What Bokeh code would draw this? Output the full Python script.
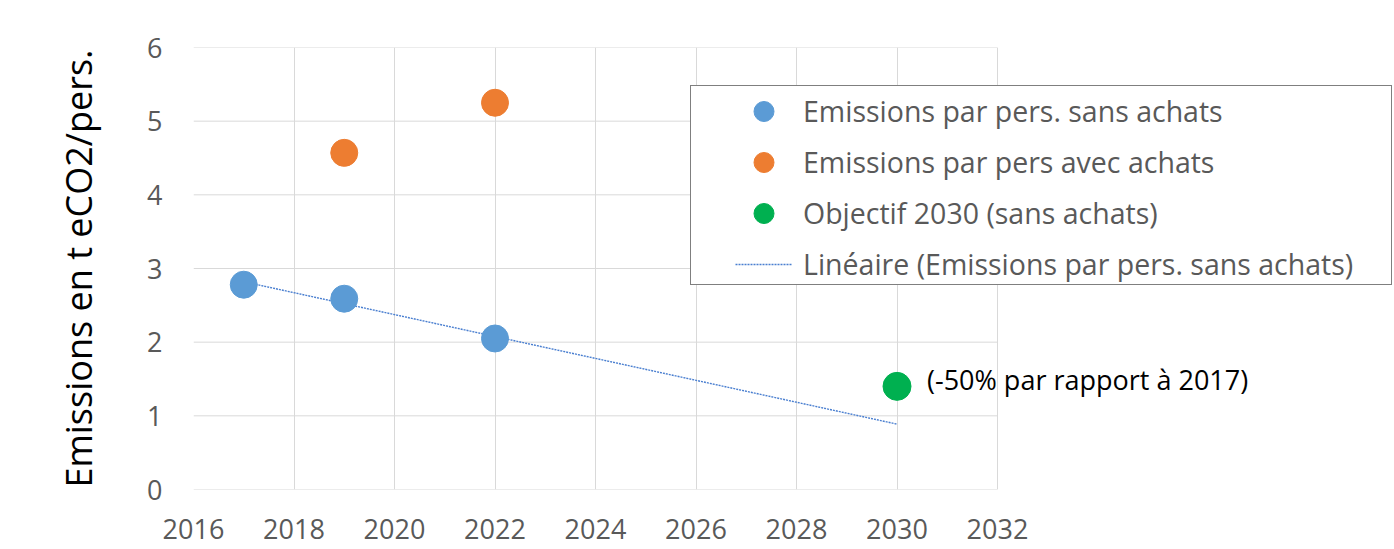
import numpy as np
from bokeh.plotting import figure
from bokeh.models import Range1d, FixedTicker, Legend, LegendItem, Label
from bokeh.embed import file_html
from bokeh.resources import INLINE

# ---- data ----
years_sans = [2017, 2019, 2022]
emis_sans = [2.78, 2.59, 2.05]
years_avec = [2019, 2022]
emis_avec = [4.57, 5.25]
years_obj = [2030]
emis_obj = [1.40]
x_ticks = [2016, 2018, 2020, 2022, 2024, 2026, 2028, 2030, 2032]
y_ticks = [0, 1, 2, 3, 4, 5, 6]
label_sans = "Emissions par pers. sans achats"
label_avec = "Emissions par pers avec achats"
label_obj = "Objectif 2030 (sans achats)"
label_trend = "Linéaire (Emissions par pers. sans achats)"
annot_text = "(-50% par rapport à 2017)"
y_title = "Emissions en t eCO2/pers."

# linear trend (Excel "Linéaire") from first measured year to the target year
slope, intercept = np.polyfit(years_sans, emis_sans, 1)
trend_x = [years_sans[0], years_obj[0]]
trend_y = [slope * x + intercept for x in trend_x]

FONT = "Open Sans"
GRID = "#D9D9D9"

# layout: the gridded area is 804 px wide; the frame continues to the right
# edge so that the legend box and the note can overlap past the grid
GRID_W = 804
FRAME_W = 1201
x_end = x_ticks[0] + (x_ticks[-1] - x_ticks[0]) * FRAME_W / GRID_W

p = figure(
    frame_width=FRAME_W, frame_height=442,
    min_border_left=193, min_border_right=0,
    min_border_top=47, min_border_bottom=60,
    x_range=Range1d(x_ticks[0], x_end),
    y_range=Range1d(y_ticks[0], y_ticks[-1]),
    output_backend="svg", toolbar_location=None,
    background_fill_color="white", border_fill_color="white",
)
p.outline_line_color = None

p.xaxis.ticker = FixedTicker(ticks=x_ticks)
p.yaxis.ticker = FixedTicker(ticks=y_ticks)
for ax in (p.xaxis, p.yaxis):
    ax.axis_line_color = None
    ax.major_tick_line_color = None
    ax.minor_tick_line_color = None
    ax.major_label_text_font = FONT
    ax.major_label_text_font_size = "27px"
    ax.major_label_text_color = "#595959"
p.xaxis.major_label_standoff = 23
p.yaxis.major_label_standoff = 25
p.yaxis.axis_label = y_title
p.yaxis.axis_label_text_font = FONT
p.yaxis.axis_label_text_font_size = "36px"
p.yaxis.axis_label_text_font_style = "normal"
p.yaxis.axis_label_text_color = "black"
p.yaxis.axis_label_standoff = 41

p.xgrid.grid_line_color = GRID
p.xgrid.grid_line_width = 1
p.ygrid.grid_line_color = None
# horizontal grid lines limited to the gridded x extent
p.segment(x0=[x_ticks[0]] * len(y_ticks), x1=[x_ticks[-1]] * len(y_ticks),
          y0=y_ticks, y1=y_ticks, line_color=GRID, line_width=1, level="underlay")

r_trend = p.line(trend_x, trend_y, line_color="#4A7FD0", line_width=1.4, line_dash="2 1")
r_sans = p.scatter(years_sans, emis_sans, size=27, fill_color="#5B9BD5", line_color="#5B9BD5")
r_avec = p.scatter(years_avec, emis_avec, size=27, fill_color="#ED7D31", line_color="#ED7D31")
r_obj = p.scatter(years_obj, emis_obj, size=28, fill_color="#00B050", line_color="#00B050")

p.add_layout(Label(
    x=years_obj[0], y=emis_obj[0], x_offset=30, y_offset=7,
    text=annot_text, text_baseline="middle", text_align="left",
    text_font=FONT, text_font_size="27px", text_color="black",
))

# legend box (an empty legend used as the framed white box)
r_dummy = p.scatter([x_ticks[0]], [y_ticks[0]], size=1, alpha=0)
box = Legend(
    items=[LegendItem(label=" ", renderers=[r_dummy])],
    location=(497, 204), padding=0, spacing=0,
    glyph_width=1, glyph_height=198, label_width=699, label_height=198,
    label_standoff=0,
    border_line_color="black", border_line_width=1,
    background_fill_color="white", background_fill_alpha=1.0,
)
p.add_layout(box, "center")

legend = Legend(
    items=[
        LegendItem(label=label_sans, renderers=[r_sans]),
        LegendItem(label=label_avec, renderers=[r_avec]),
        LegendItem(label=label_obj, renderers=[r_obj]),
        LegendItem(label=label_trend, renderers=[r_trend]),
    ],
    location=(542, 200), padding=0, spacing=1,
    glyph_width=57, glyph_height=50, label_standoff=11,
    label_text_font=FONT, label_text_font_size="28.5px", label_text_color="#595959",
    border_line_color=None, background_fill_alpha=0.0,
)
p.add_layout(legend, "center")

open("out.html", "w").write(file_html(p, INLINE))
